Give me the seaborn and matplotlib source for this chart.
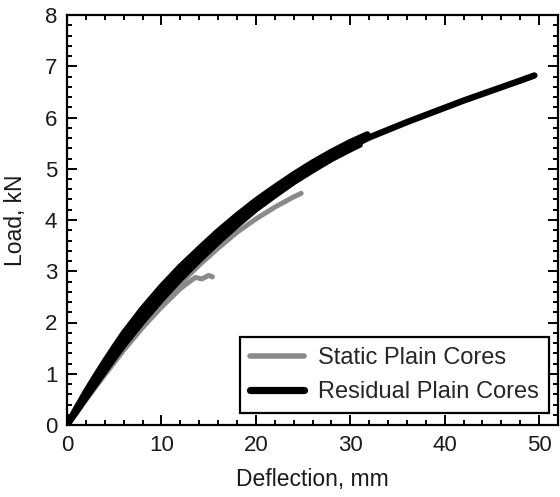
import matplotlib
matplotlib.use("Agg")
import matplotlib.pyplot as plt
from matplotlib.ticker import MultipleLocator
from matplotlib.lines import Line2D
import numpy as np
import pandas as pd
import seaborn as sns

# ---- data ----
static1_x = [0, 1, 2, 3, 4, 5, 6, 8, 10, 12, 14, 16, 18, 20, 22, 24, 24.8]
static1_y = [0, 0.25, 0.51, 0.77, 1.02, 1.27, 1.51, 1.96, 2.38, 2.76, 3.12, 3.45, 3.76, 4.02, 4.25, 4.45, 4.52]

static2_x = [0, 2, 4, 6, 8, 10, 12, 13.0, 13.6, 14.3, 15.0, 15.4]
static2_y = [0, 0.49, 0.98, 1.46, 1.90, 2.30, 2.66, 2.80, 2.88, 2.85, 2.92, 2.89]

resid1_x = [0, 1, 2, 3, 4, 5, 6, 8, 10, 12, 14, 16, 18, 20, 22, 24, 26, 28, 30, 32,
            34, 36, 38, 40, 42, 44, 46, 48, 49.5]
resid1_y = [0, 0.29, 0.58, 0.86, 1.14, 1.41, 1.67, 2.14, 2.57, 2.96, 3.32, 3.66, 3.98, 4.28,
            4.55, 4.80, 5.03, 5.24, 5.43, 5.61, 5.76, 5.91, 6.05, 6.19, 6.33, 6.46, 6.59, 6.72, 6.82]

resid2_x = [0, 1, 2, 3, 4, 5, 6, 8, 10, 12, 14, 16, 18, 20, 22, 24, 26, 28, 30, 31.8]
resid2_y = [0, 0.33, 0.65, 0.95, 1.24, 1.52, 1.79, 2.27, 2.70, 3.09, 3.44, 3.78, 4.09, 4.38,
            4.64, 4.89, 5.12, 5.33, 5.52, 5.67]

resid3_x = [0, 1, 2, 3, 4, 5, 6, 8, 10, 12, 14, 16, 18, 20, 22, 24, 26, 28, 30, 31]
resid3_y = [0, 0.26, 0.53, 0.79, 1.05, 1.31, 1.56, 2.02, 2.45, 2.85, 3.22, 3.57, 3.90, 4.21,
            4.48, 4.74, 4.97, 5.19, 5.38, 5.47]

series_labels = ["Static Plain Cores", "Residual Plain Cores"]
x_ticks = [0, 10, 20, 30, 40, 50]
y_ticks = [0, 1, 2, 3, 4, 5, 6, 7, 8]

def frame(xs, ys, series, unit):
    return pd.DataFrame({"Deflection": xs, "Load": ys, "Series": series, "Unit": unit})

static_df = pd.concat([frame(static1_x, static1_y, series_labels[0], "s1"),
                       frame(static2_x, static2_y, series_labels[0], "s2")], ignore_index=True)
resid_df = pd.concat([frame(resid1_x, resid1_y, series_labels[1], "r1"),
                      frame(resid2_x, resid2_y, series_labels[1], "r2"),
                      frame(resid3_x, resid3_y, series_labels[1], "r3")], ignore_index=True)

sns.set_style("white")
plt.rcParams["font.family"] = ["Liberation Sans", "DejaVu Sans"]

gray = "#8a8a8a"
black = "#000000"

fig = plt.figure(figsize=(5.6, 4.97), dpi=100)
ax = fig.add_axes([67 / 560, 1 - 425 / 497, (558 - 67) / 560, (425 - 15) / 497])

sns.lineplot(data=static_df, x="Deflection", y="Load", units="Unit", estimator=None,
             sort=False, color=gray, linewidth=3.6, ax=ax, legend=False)
sns.lineplot(data=resid_df, x="Deflection", y="Load", units="Unit", estimator=None,
             sort=False, color=black, linewidth=4.6, ax=ax, legend=False)

ax.set_xlim(0, 52)
ax.set_ylim(0, 8)
ax.set_xticks(x_ticks)
ax.set_yticks(y_ticks)
ax.xaxis.set_minor_locator(MultipleLocator(2))
ax.yaxis.set_minor_locator(MultipleLocator(0.2))
ax.tick_params(which="both", direction="in", top=True, right=True, bottom=True, left=True,
               color="black", width=1.4)
ax.tick_params(which="major", length=7, labelsize=16, pad=7, labelcolor="#1a1a1a")
ax.tick_params(which="minor", length=3.6)
for s in ax.spines.values():
    s.set_visible(True)
    s.set_color("black")
    s.set_linewidth(1.6)

ax.set_xlabel("Deflection, mm", fontsize=16.5, labelpad=9, color="#1a1a1a")
ax.set_ylabel("Load, kN", fontsize=16.5, labelpad=13, color="#1a1a1a")

handles = [Line2D([], [], color=gray, linewidth=4.0),
           Line2D([], [], color=black, linewidth=5.2)]
leg = ax.legend(handles, series_labels, loc="lower right", bbox_to_anchor=(0.9817, 0.0293),
                borderaxespad=0, fontsize=17, frameon=True, fancybox=False, framealpha=1,
                edgecolor="black", handlelength=2.3, handletextpad=0.6, labelspacing=0.52,
                borderpad=0.42)
leg.get_frame().set_linewidth(1.6)

fig.savefig("out.png", dpi=100)
